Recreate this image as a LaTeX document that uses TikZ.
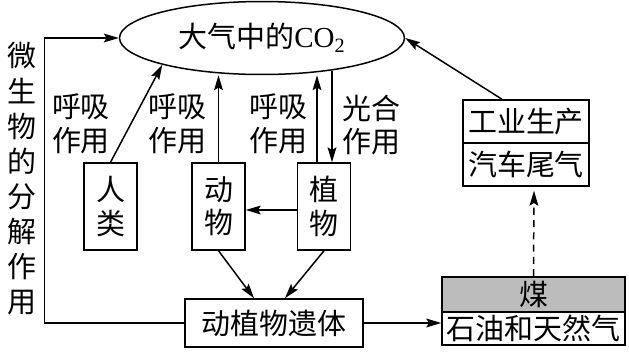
\documentclass[tikz,border=0pt]{standalone}
\usepackage{fontspec}
\setmainfont{Liberation Serif}
\newfontfamily\cjk{Noto Sans CJK SC}
\usepackage{tikz}
\usetikzlibrary{calc,arrows.meta,shapes.geometric,positioning}
\definecolor{CoalGray}{RGB}{188,188,188}

\begin{document}
\begin{tikzpicture}[x=0.02cm, y=-0.02cm, line width=0.85pt,
    every node/.style={font=\cjk\fontsize{16.5}{19}\selectfont, align=center, inner sep=0pt},
    arr/.style={-{Stealth[length=8.5pt,width=5pt,inset=1.5pt]}},
    box/.style={draw, minimum width=1.06cm, minimum height=1.74cm}]
    \useasboundingbox (0,0) rectangle (629,352);
    \node[draw, ellipse, minimum width=5.7cm, minimum height=1.46cm] (co2) at (262,38) {大气中的{\rmfamily CO\textsubscript{2}}};
    \node[font=\cjk\fontsize{16.5}{20}\selectfont] (microbe) at (22,179) {微\\生\\物\\的\\分\\解\\作\\用};
    \node[box] (human) at (110.5,206.5) {人\\类};
    \node[box] (animal) at (218.5,206.5) {动\\物};
    \node[box] (plant) at (324,206.5) {植\\物};
    \node[draw, minimum width=3.56cm, minimum height=0.96cm] (remains) at (274,323) {动植物遗体};
    \node[draw, fill=CoalGray, minimum width=3.66cm, minimum height=0.7cm] (coal) at (533.5,294.5) {煤};
    \node[draw, minimum width=3.66cm, minimum height=0.66cm] (oil) at (533.5,328.5) {石油和天然气};
    \node[draw, minimum width=2.52cm, minimum height=0.86cm] (industry) at (526,121.5) {工业生产};
    \node[draw, minimum width=2.52cm, minimum height=0.86cm] (car) at (526,164.5) {汽车尾气};
    \foreach \x/\nm in {81/resp1,177.5/resp2,278/resp3} {
        \node (\nm) at (\x,124) {呼吸\\作用};
    }
    \node (photo) at (371.5,125) {光合\\作用};
    \draw[arr] (human.north) -- (co2.195);
    \draw[arr] (animal.north) -- (animal.north |- co2.south);
    \draw[arr] ($(plant.north)+(-7,0)$) -- ($(plant.north |- co2.south)+(-7,0)$);
    \draw[arr] ($(plant.north |- co2.south)+(8,-4)$) -- ($(plant.north)+(8,0)$);
    \draw[arr] ($(plant.west)+(0,3.5)$) -- ($(animal.east)+(0,3.5)$);
    \draw[arr] (animal.south) -- ($(remains.north)+(-20,0)$);
    \draw[arr] (plant.south) -- ($(remains.north)+(11,0)$);
    \draw[arr] (remains.west) -- ++(-140,0) |- (co2.west);
    \draw[arr] (remains.east) -- (oil.west |- remains.east);
    \draw[arr, dash pattern=on 4pt off 3pt] (coal.north) -- ($(car.south)+(8,4)$);
    \draw[arr] ($(industry.north)+(-24,0)$) -- (co2.east);
\end{tikzpicture}
\end{document}
